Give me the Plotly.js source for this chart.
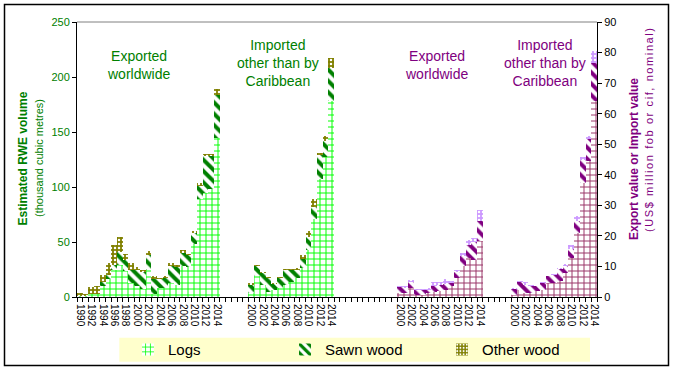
<!DOCTYPE html>
<html>
<head>
<meta charset="utf-8">
<script src="https://cdn.plot.ly/plotly-3.0.1.min.js"></script>
<style>
html,body{margin:0;padding:0;background:#fff;}
#chart{width:673px;height:370px;}
</style>
</head>
<body>
<div id="chart"></div>
<script>
// ---- Data ----
const yearsAll = [1990,1991,1992,1993,1994,1995,1996,1997,1998,1999,2000,2001,2002,2003,2004,2005,2006,2007,2008,2009,2010,2011,2012,2013,2014];
const yearsRecent = [2000,2001,2002,2003,2004,2005,2006,2007,2008,2009,2010,2011,2012,2013,2014];

// Estimated RWE volume (thousand cubic metres), exported worldwide, 1990-2014
const volExpLogs  = [1,1,3,3,10,16,25,29,24,13,10,7,25,3,8,8,13,11,28,27,48,89,95,98,145];
const volExpSawn  = [0,0,0,0,4,4,4,12,10,12,15,16,13,13,8,9,15,16,12,11,10,12,33,30,39];
const volExpOther = [3,2,6,7,6,11,18,14,5,6,2,2,4,3,1,2,3,2,3,1,2,3,2,2,5];

// Estimated RWE volume, imported other than by Caribbean, 2000-2014
const volImpLogs  = [4,19,11,5,6,8,11,14,17,26,43,71,107,127,178];
const volImpSawn  = [7,9,11,12,6,9,14,11,8,9,12,11,22,15,30];
const volImpOther = [2,1,1,1,0.5,1,0.5,0.5,1,3,5,7,2,4,9];

// Export value (US$ million fob, nominal), exported worldwide, 2000-2014
const valExpLogs  = [1.3,1.3,3.0,0.8,0.8,1.3,1.5,1.9,2.4,3.7,6.2,10.3,12.8,12.2,18.2];
const valExpSawn  = [2.0,1.7,1.8,1.4,1.6,1.1,2.2,2.1,2.0,0.9,1.9,3.0,4.3,5.7,6.6];
const valExpOther = [0.2,0.7,0.9,0.4,0.2,0.5,1.1,0.8,1.5,0.5,0.6,1.1,1.7,1.4,3.6];

// Import value (US$ million cif, nominal), imported other than by Caribbean, 2000-2014
const valImpLogs  = [0.8,2.2,1.3,1.3,1.9,2.4,4.6,4.6,5.1,7.9,12.8,20.9,37.3,44.4,64.0];
const valImpSawn  = [1.8,2.6,2.7,2.2,1.6,2.2,2.2,2.7,4.1,2.1,2.9,3.9,7.6,7.3,12.6];
const valImpOther = [0.3,0.3,0.8,0.5,0.2,0.2,0.2,0.1,0.3,0.9,1.4,1.8,0.9,1.1,3.8];

const seriesNames = ['Logs','Sawn wood','Other wood'];
const groupTexts = ['Exported<br>worldwide','Imported<br>other than by<br>Caribbean'];
const leftTitle = 'Estimated RWE volume';
const leftSub = '(thousand cubic metres)';
const rightTitle = 'Export value or Import value';
const rightSub = '(US$ million fob or cif, nominal)';

// ---- Layout of category slots ----
const groupStart = [0, 30, 56, 76];
const nSlots = 91;
const groupYears = [yearsAll, yearsRecent, yearsRecent, yearsRecent];

function slots(g, yrs){ return yrs.map((_, i) => groupStart[g] + i); }

const GREEN = '#008000', PURPLE = '#800080';
const greenStyles = [
  {shape:'+', fgcolor:'#00FF00', bgcolor:'#FFFFFF', size:6, solidity:0.3},
  {shape:'\\', fgcolor:'#008000', bgcolor:'#FFFFFF', size:8, solidity:0.5},
  {shape:'.', fgcolor:'#FFFFFF', bgcolor:'#808000', size:4, solidity:0.3}
];
const purpleStyles = [
  {shape:'+', fgcolor:'#993366', bgcolor:'#FFFFFF', size:6, solidity:0.3},
  {shape:'\\', fgcolor:'#800080', bgcolor:'#FFFFFF', size:8, solidity:0.5},
  {shape:'.', fgcolor:'#FFFFFF', bgcolor:'#CC99FF', size:4, solidity:0.3}
];
const volExp = [volExpLogs, volExpSawn, volExpOther];
const volImp = [volImpLogs, volImpSawn, volImpOther];
const valExp = [valExpLogs, valExpSawn, valExpOther];
const valImp = [valImpLogs, valImpSawn, valImpOther];

const traces = [];
for (let s = 0; s < 3; s++) {
  traces.push({
    type:'bar', name: seriesNames[s], legendgroup: seriesNames[s],
    x: slots(0, yearsAll).concat(slots(1, yearsRecent)),
    y: volExp[s].concat(volImp[s]),
    xaxis:'x', yaxis:'y',
    marker:{color: greenStyles[s].bgcolor, line:{width:0}, pattern: greenStyles[s]},
    hoverinfo:'skip'
  });
}
for (let s = 0; s < 3; s++) {
  traces.push({
    type:'bar', name: seriesNames[s] + ' value', showlegend:false,
    x: slots(2, yearsRecent).concat(slots(3, yearsRecent)),
    y: valExp[s].concat(valImp[s]),
    xaxis:'x', yaxis:'y2',
    marker:{color: purpleStyles[s].bgcolor, line:{width:0}, pattern: purpleStyles[s]},
    hoverinfo:'skip'
  });
}

// ticks at every slot boundary, labels for even years (shifted half a slot)
const tickVals = [], tickText = [];
for (let k = 0; k <= nSlots; k++) { tickVals.push(k - 0.5); tickText.push(''); }
groupYears.forEach((yrs, g) => yrs.forEach((yr, i) => {
  if (yr % 2 === 0) tickText[groupStart[g] + i] = String(yr);
}));

// pixel -> paper helpers (plot area 77..597 x 22..297)
const ML = 77, MR = 76, MT = 22, MB = 73, W = 673, H = 370;
const PW = W - ML - MR, PH = H - MT - MB;
const px = v => (v - ML) / PW;
const py = v => (H - MB - v) / PH;

const annFont = c => ({family:'Liberation Sans, Arial, sans-serif', size:14, color:c});
const annotations = [
  {text: groupTexts[0], x: px(138.5), y: py(64.5), font: annFont(GREEN)},
  {text: groupTexts[1], x: px(277.5), y: py(63.5), font: annFont(GREEN)},
  {text: groupTexts[0], x: px(436), y: py(64.5), font: annFont(PURPLE)},
  {text: groupTexts[1], x: px(544.5), y: py(63.5), font: annFont(PURPLE)},
  {text: '<b>' + leftTitle + '</b>', x: px(22.5), y: py(159), textangle:-90,
   font:{family:'Liberation Sans, Arial, sans-serif', size:12, color:GREEN}},
  {text: leftSub, x: px(39), y: py(158), textangle:-90,
   font:{family:'Liberation Sans, Arial, sans-serif', size:11, color:GREEN}},
  {text: '<b>' + rightTitle + '</b>', x: px(634), y: py(159), textangle:-90,
   font:{family:'Liberation Sans, Arial, sans-serif', size:12, color:PURPLE}},
  {text: '<span style="letter-spacing:1.6px">' + rightSub + '</span>', x: px(649), y: py(129), textangle:-90,
   font:{family:'Liberation Sans, Arial, sans-serif', size:11, color:PURPLE}}
].map(a => Object.assign({xref:'paper', yref:'paper', showarrow:false, xanchor:'center', yanchor:'middle', align:'center'}, a));

const shapes = [
  {type:'rect', xref:'paper', yref:'paper', x0:px(119.3), x1:px(590), y0:py(361.7), y1:py(337.7),
   fillcolor:'#FFFFCC', line:{width:0}, layer:'below'},
  {type:'line', xref:'paper', yref:'paper', x0:0, x1:1, y0:1, y1:1, line:{color:'#808080', width:1}},
  {type:'rect', xref:'paper', yref:'paper', x0:px(4.5), x1:px(668.5), y0:py(365.5), y1:py(4.5),
   line:{color:'#000', width:1.5}, fillcolor:'rgba(0,0,0,0)'}
];

const layout = {
  width: W, height: H,
  margin:{l:ML, r:MR, t:MT, b:MB, pad:0, autoexpand:false},
  paper_bgcolor:'#fff', plot_bgcolor:'#fff',
  font:{family:'Liberation Sans, Arial, sans-serif', color:'#000'},
  barmode:'stack', bargap:0,
  showlegend:true,
  legend:{orientation:'h', x:px(128), y:py(349.7), xanchor:'left', yanchor:'middle',
          bgcolor:'rgba(0,0,0,0)', font:{size:15, color:'#000'},
          entrywidth:112, entrywidthmode:'pixels', traceorder:'normal'},
  xaxis:{range:[-0.5, nSlots - 0.5], tickmode:'array', tickvals:tickVals, ticktext:tickText,
         tickangle:90, ticks:'outside', ticklen:4, tickcolor:'#000', ticklabelshift:3,
         showline:true, linecolor:'#000', linewidth:1, showgrid:false, zeroline:false, automargin:false,
         tickfont:{size:10, color:'#000'}, fixedrange:true},
  yaxis:{range:[0,250], tick0:0, dtick:50, ticks:'outside', ticklen:4, tickcolor:'#000',
         showline:true, linecolor:'#000', linewidth:1, showgrid:false, zeroline:false, automargin:false,
         tickfont:{size:11, color:GREEN}, fixedrange:true},
  yaxis2:{range:[0,90], tick0:0, dtick:10, overlaying:'y', side:'right', ticks:'outside', ticklen:4,
          tickcolor:'#000', showline:true, linecolor:'#000', linewidth:1, showgrid:false, zeroline:false, automargin:false,
          tickfont:{size:11, color:'#000'}, fixedrange:true},
  annotations: annotations,
  shapes: shapes
};

Plotly.newPlot('chart', traces, layout, {displayModeBar:false, staticPlot:true});
</script>
</body>
</html>
